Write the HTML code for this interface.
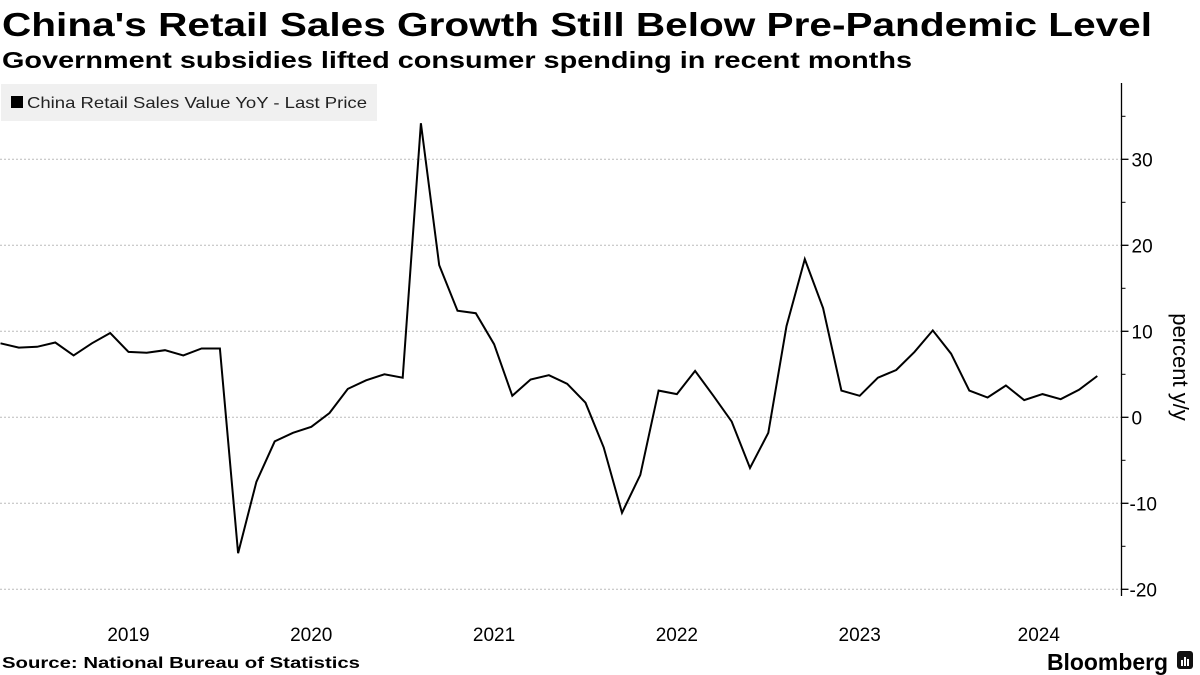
<!DOCTYPE html>
<html><head><meta charset="utf-8">
<style>
html,body{margin:0;padding:0;background:#fff;}
svg{display:block;font-family:"Liberation Sans","DejaVu Sans",sans-serif;}
</style></head>
<body>
<svg id="chart" width="1200" height="675" viewBox="0 0 1200 675">
<text x="2" y="36" font-size="33" font-weight="bold" textLength="1150" lengthAdjust="spacingAndGlyphs">China's Retail Sales Growth Still Below Pre-Pandemic Level</text>
<text x="2" y="68" font-size="23" font-weight="bold" textLength="910" lengthAdjust="spacingAndGlyphs">Government subsidies lifted consumer spending in recent months</text>
<g>
<rect x="1" y="84" width="376" height="37" fill="#f0f0f0"/>
<rect x="11" y="96" width="12" height="12" fill="#000"/>
<text x="27" y="108" font-size="16" fill="#222" textLength="340" lengthAdjust="spacingAndGlyphs">China Retail Sales Value YoY - Last Price</text>
</g>
<g id="grid"></g>
<g id="yaxis"></g>
<g id="xaxis"></g>
<g id="series"></g>
<text transform="translate(1173,367) rotate(90)" font-size="22" text-anchor="middle">percent y/y</text>
<text x="2" y="668" font-size="16" font-weight="bold" textLength="358" lengthAdjust="spacingAndGlyphs">Source: National Bureau of Statistics</text>
<text x="1047" y="670" font-size="23" font-weight="bold" textLength="121" lengthAdjust="spacingAndGlyphs">Bloomberg</text>
<g>
<rect x="1177" y="651" width="16" height="18" rx="3" fill="#111"/>
<rect x="1181" y="660" width="2" height="6" fill="#fff"/><rect x="1184" y="657" width="2" height="9" fill="#fff"/><rect x="1187" y="659" width="2" height="7" fill="#fff"/>
</g>
</svg>
<script>
const yTicks = [30, 20, 10, 0, -10, -20];
const yMinorTicks = [35, 25, 15, 5, -5, -15];
const yearLabels = ["2019", "2020", "2021", "2022", "2023", "2024"];
const yearLabelIdx = [7, 17, 27, 37, 47, 56.8];
const values2018 = [8.6, 8.1, 8.2];
const values2019 = [8.7, 7.2, 8.6, 9.8, 7.6, 7.5, 7.8, 7.2, 8.0, 8.0];
const values2020 = [-15.8, -7.5, -2.8, -1.8, -1.1, 0.5, 3.3, 4.3, 5.0, 4.6];
const values2021 = [34.2, 17.7, 12.4, 12.1, 8.5, 2.5, 4.4, 4.9, 3.9, 1.7];
const values2022 = [-3.5, -11.1, -6.7, 3.1, 2.7, 5.4, 2.5, -0.5, -5.9, -1.8];
const values2023 = [10.6, 18.4, 12.7, 3.1, 2.5, 4.6, 5.5, 7.6, 10.1, 7.4];
const values2024 = [3.1, 2.3, 3.7, 2.0, 2.7, 2.1, 3.2, 4.8];

const values = [].concat(values2018, values2019, values2020, values2021, values2022, values2023, values2024);
const NS = "http://www.w3.org/2000/svg";
const x = i => 0.5 + i * 18.28;
const y = v => 417.3 - v * 8.6;
const AX = 1121.5;
function mk(tag, attrs, parent) {
  const e = document.createElementNS(NS, tag);
  for (const k in attrs) e.setAttribute(k, attrs[k]);
  parent.appendChild(e);
  return e;
}
const grid = document.getElementById("grid");
const yaxis = document.getElementById("yaxis");
const xaxis = document.getElementById("xaxis");
const series = document.getElementById("series");
const axisLine = mk("line", {x1: AX, x2: AX, y1: 83, y2: 596, stroke: "#000", "stroke-width": 1.3}, yaxis);


yTicks.forEach(t => {
  const g = mk("line", {x1: 0, x2: AX, y1: y(t), y2: y(t), stroke: "#bbb", "stroke-width": 1, "stroke-dasharray": "2,2"}, grid);
  
  
  const tk = mk("line", {x1: AX, x2: AX + 7, y1: y(t), y2: y(t), stroke: "#000", "stroke-width": 1.3}, yaxis);
  
  
  const lb = mk("text", {x: t < 0 ? AX + 8 : AX + 10, y: y(t) + 7, "font-size": 19}, yaxis);
  lb.textContent = t < 0 ? "-" + Math.abs(t) : String(t);
  
  
});
yMinorTicks.forEach(t => {
  const tk = mk("line", {x1: AX, x2: AX + 4, y1: y(t), y2: y(t), stroke: "#000", "stroke-width": 1}, yaxis);
  
  
});
yearLabels.forEach((l, i) => {
  const t = mk("text", {x: x(yearLabelIdx[i]), y: 641, "font-size": 19, "text-anchor": "middle"}, xaxis);
  t.textContent = l;
  
  
});
const pts = values.map((v, i) => x(i).toFixed(1) + "," + y(v).toFixed(1)).join(" ");
const line = mk("polyline", {points: pts, fill: "none", stroke: "#000", "stroke-width": 2, "stroke-linejoin": "miter"}, series);


</script>
</body></html>
